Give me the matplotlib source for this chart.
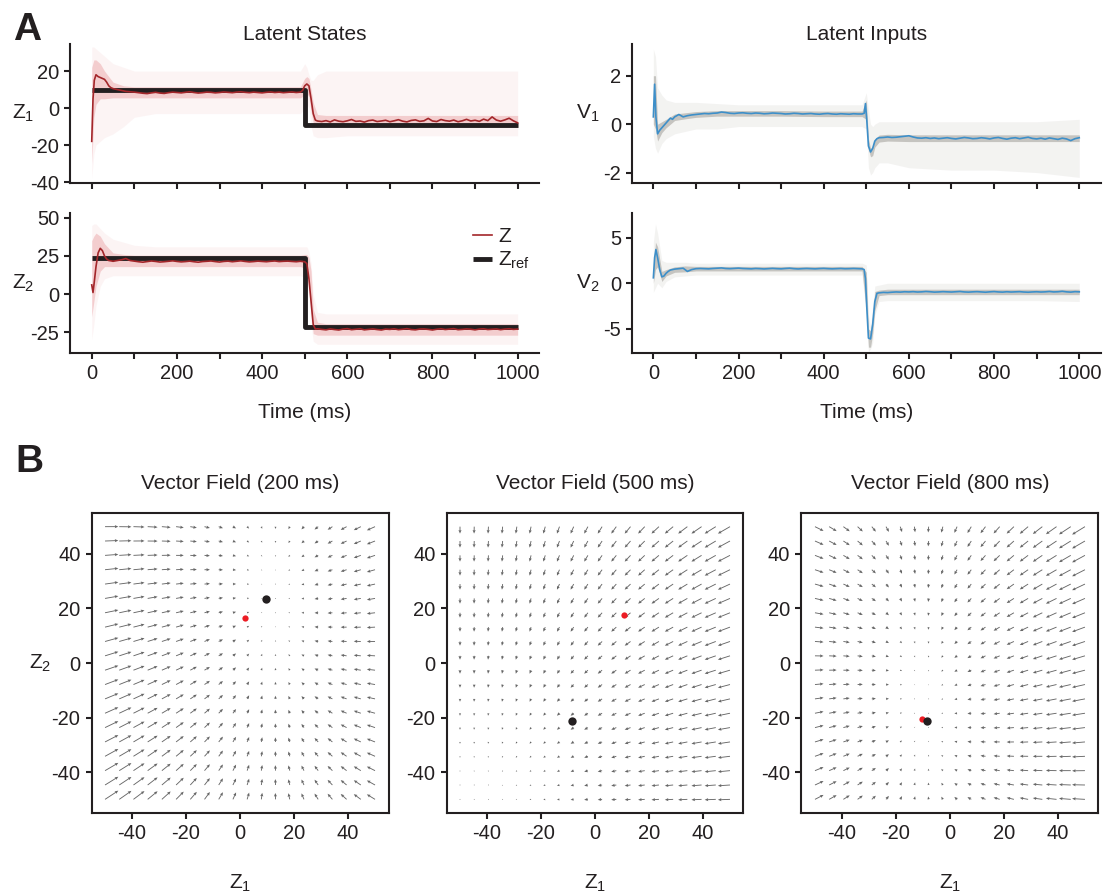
import numpy as np
import matplotlib
matplotlib.use("Agg")
import matplotlib.pyplot as plt

INK = "#231f20"

plt.rcParams.update({
    "font.family": ["Liberation Sans", "DejaVu Sans"],
    "mathtext.fontset": "custom",
    "mathtext.rm": "Liberation Sans",
    "mathtext.default": "regular",
    "axes.unicode_minus": False,
    "font.size": 15,
    "text.color": INK,
    "axes.edgecolor": INK,
    "axes.labelcolor": INK,
    "xtick.color": INK,
    "ytick.color": INK,
    "axes.linewidth": 1.5,
})

# ---- time grids (ms) ----
t_early = [0, 3, 6, 10, 15, 20, 25, 30, 35, 40, 45, 50, 60, 70, 80, 90]
t_steady = list(range(100, 500, 10))
t_late = list(range(530, 1001, 10))
z_switch_t = [495, 500, 505, 510, 515, 520, 525]
v_switch_t = [495, 498, 501, 505, 510, 515, 520, 525]

# ---- latent states (trial mean) ----
z1_early = [-18, 5, 15, 18, 17, 16.5, 16, 15.5, 14, 12, 11, 10.5, 10, 9.5, 9, 8.8]
z1_steady = [8.6, 8.3, 8.0, 7.8, 8.2, 8.5, 8.1, 7.9, 8.3, 8.6,
             8.4, 8.2, 8.5, 8.8, 8.4, 8.1, 8.3, 8.6, 8.5, 8.2,
             8.4, 8.7, 8.5, 8.3, 8.6, 8.8, 8.5, 8.3, 8.6, 8.4,
             8.2, 8.5, 8.7, 8.4, 8.6, 8.3, 8.5, 8.7, 8.4, 8.6]
z1_switch = [9.5, 12, 13, 12, 5, -3, -6.5]
z1_late = [-7.0, -7.3, -6.8, -7.5, -6.4, -7.1, -7.4, -6.9, -6.2, -7.2,
           -7.0, -7.6, -6.8, -6.5, -7.3, -7.0, -6.6, -7.4, -6.9, -6.3,
           -7.1, -7.5, -6.7, -6.4, -7.2, -6.9, -5.6, -7.0, -7.3, -6.2,
           -6.8, -7.1, -6.5, -7.4, -6.9, -6.1, -7.0, -6.6, -7.2, -6.0,
           -6.8, -4.8, -6.5, -7.1, -6.4, -5.5, -6.9, -8.0]

z2_early = [6, 1, 8, 18, 27, 30, 28.5, 25, 23, 22, 21.8, 21.5, 22, 22.5, 23.3, 22]
z2_steady = [21.6, 21.2, 20.9, 21.3, 21.7, 21.4, 21.0, 21.2, 21.5, 21.8,
             21.4, 21.1, 21.3, 21.6, 21.2, 20.9, 21.3, 21.5, 21.7, 21.3,
             21.0, 21.4, 21.6, 21.2, 21.5, 21.8, 21.4, 21.1, 21.3, 21.6,
             21.4, 21.2, 21.5, 21.7, 21.3, 21.5, 21.6, 21.4, 21.2, 21.5]
z2_switch = [21.3, 21.2, 20, 10, -5, -20, -23]
z2_late = [-22.8, -23.2, -23.5, -22.9, -23.3, -23.6, -23.0, -22.7, -23.4, -23.1,
           -22.8, -23.5, -23.2, -22.9, -23.3, -23.6, -23.0, -23.2, -22.8, -23.4,
           -23.1, -22.7, -23.3, -23.5, -23.0, -22.9, -23.2, -23.6, -23.1, -22.8,
           -23.3, -23.0, -22.7, -23.4, -23.2, -22.9, -23.1, -23.5, -23.0, -22.8,
           -23.3, -23.1, -22.9, -23.4, -23.0, -22.8, -23.2, -23.0]

# reference targets before / after the switch
ref_switch = 500
z1_ref = [9.5, -9.0]
z2_ref = [23.5, -21.5]

# ---- latent inputs (trial mean) ----
v1_early = [0.3, 1.65, 0.3, -0.4, -0.25, -0.15, -0.05, 0.05, 0.15, 0.25, 0.2, 0.3, 0.4, 0.3, 0.35, 0.38]
v1_steady = [0.40, 0.42, 0.44, 0.43, 0.45, 0.46, 0.50, 0.48, 0.45, 0.44,
             0.46, 0.47, 0.45, 0.44, 0.46, 0.45, 0.43, 0.44, 0.46, 0.45,
             0.44, 0.42, 0.43, 0.45, 0.44, 0.42, 0.43, 0.44, 0.42, 0.41,
             0.43, 0.44, 0.42, 0.41, 0.43, 0.42, 0.41, 0.43, 0.42, 0.42]
v1_switch = [0.45, 0.85, 0.2, -0.9, -1.15, -1.0, -0.7, -0.6]
v1_late = [-0.56, -0.55, -0.53, -0.55, -0.54, -0.52, -0.50, -0.48, -0.53, -0.57,
           -0.58, -0.56, -0.59, -0.57, -0.60, -0.58, -0.56, -0.59, -0.61, -0.58,
           -0.55, -0.57, -0.60, -0.59, -0.56, -0.58, -0.61, -0.57, -0.55, -0.59,
           -0.62, -0.58, -0.56, -0.60, -0.57, -0.54, -0.59, -0.61, -0.58, -0.62,
           -0.57, -0.60, -0.63, -0.58, -0.61, -0.68, -0.60, -0.56]

v2_early = [0.6, 2.8, 3.7, 2.8, 1.5, 0.7, 0.8, 1.1, 1.3, 1.45, 1.5, 1.55, 1.6, 1.65, 1.3, 1.5]
v2_steady = [1.6, 1.62, 1.6, 1.58, 1.62, 1.65, 1.68, 1.62, 1.6, 1.63,
             1.66, 1.62, 1.6, 1.58, 1.62, 1.6, 1.57, 1.6, 1.63, 1.6,
             1.58, 1.62, 1.65, 1.6, 1.57, 1.6, 1.62, 1.6, 1.58, 1.61,
             1.63, 1.6, 1.58, 1.6, 1.62, 1.59, 1.6, 1.62, 1.6, 1.58]
v2_switch = [1.5, 0.5, -2.5, -6.0, -6.1, -4.5, -2.0, -1.1]
v2_late = [-1.05, -1.0, -1.02, -0.98, -0.95, -0.97, -0.93, -0.95, -0.92, -0.96,
           -0.94, -0.9, -0.93, -0.97, -0.95, -0.92, -0.94, -0.96, -0.93, -0.9,
           -0.95, -0.97, -0.94, -0.92, -0.95, -0.98, -0.94, -0.91, -0.95, -0.97,
           -0.93, -0.96, -0.94, -0.92, -0.96, -0.98, -0.95, -0.93, -0.96, -0.94,
           -0.9, -0.95, -0.93, -0.88, -0.94, -0.97, -0.92, -0.94]

# ---- trial spread envelopes (inner = dense core, outer = faint trials) ----
env_t = [0, 5, 10, 20, 30, 50, 75, 100, 150, 200, 300, 400, 490,
         500, 505, 510, 515, 520, 530, 550, 600, 700, 800, 900, 1000]

z1_inner_hi = [22, 26, 26, 24, 20, 14, 12, 11.5, 11.5, 11.5, 11.5, 11.5, 11.5, 16, 17, 16, 10, 3, -3.5, -4, -4, -4, -4, -4, -4]
z1_inner_lo = [-30, -5, 2, 5, 5, 5.5, 5.5, 5.5, 5.5, 5.5, 5.5, 5.5, 5.5, 7, 8, 6, -2, -8, -10.5, -10.5, -10.5, -10.5, -10.5, -10.5, -10.5]
z1_outer_hi = [33, 33, 32, 30, 28, 24, 22, 20, 20, 20, 20, 20, 20, 24, 22, 18, 15, 15, 18, 20, 20, 20, 20, 20, 20]
z1_outer_lo = [-38, -25, -20, -18, -16, -14, -10, -5, -3, -3, -3, -3, -3, 0, 2, 0, -10, -15, -16, -16, -15, -15, -15, -15, -15]

z2_inner_hi = [35, 38, 40, 38, 33, 27, 26, 25.5, 25.5, 25.5, 25.5, 25.5, 25.5, 26, 26, 24, 15, -10, -18.5, -19.5, -19.5, -19.5, -19.5, -19.5, -19.5]
z2_inner_lo = [-15, -5, 5, 15, 18, 18, 18, 18, 18, 18, 18, 18, 18, 17, 16, 8, -12, -26, -27, -27, -27, -27, -27, -27, -27]
z2_outer_hi = [45, 46, 46, 43, 40, 36, 34, 32, 31, 31, 31, 31, 31, 31, 31, 28, 20, 0, -12, -13, -13, -13, -13, -13, -13]
z2_outer_lo = [-30, -20, -8, 5, 10, 12, 12, 12, 12, 12, 12, 12, 12, 11, 10, 0, -20, -31, -33, -33, -33, -33, -33, -33, -33]

v1_inner_hi = [2.0, 2.0, 0.0, 0.1, 0.2, 0.42, 0.47, 0.52, 0.56, 0.56, 0.56, 0.54, 0.54, 1.0, -0.6, -1.0, -0.9, -0.62, -0.45, -0.42, -0.44, -0.44, -0.44, -0.44, -0.44]
v1_inner_lo = [0.0, -0.2, -0.7, -0.35, -0.15, 0.15, 0.22, 0.28, 0.33, 0.33, 0.33, 0.31, 0.31, 0.2, -1.05, -1.35, -1.3, -0.95, -0.74, -0.7, -0.72, -0.72, -0.72, -0.72, -0.72]
v1_outer_hi = [3.1, 2.8, 1.5, 1.2, 1.0, 0.9, 0.9, 0.9, 0.85, 0.8, 0.8, 0.8, 0.8, 1.3, 0.6, 0.0, -0.1, 0.0, 0.1, 0.1, 0.1, 0.1, 0.1, 0.1, 0.2]
v1_outer_lo = [-0.5, -1.0, -1.2, -0.8, -0.6, -0.4, -0.3, -0.2, -0.2, -0.1, -0.1, -0.1, -0.1, -0.2, -1.8, -2.1, -2.0, -1.8, -1.6, -1.6, -1.8, -1.9, -1.9, -2.0, -2.2]

v2_inner_hi = [1.5, 4.5, 4.0, 1.3, 1.5, 1.8, 1.9, 1.85, 1.85, 1.85, 1.85, 1.85, 1.85, 1.2, -5.0, -5.2, -3.5, -0.9, -0.75, -0.65, -0.65, -0.65, -0.65, -0.65, -0.65]
v2_inner_lo = [0.0, 1.5, 1.8, 0.2, 0.8, 1.2, 1.25, 1.35, 1.35, 1.35, 1.35, 1.35, 1.35, -3.0, -7.0, -7.0, -5.5, -3.0, -1.35, -1.25, -1.25, -1.25, -1.25, -1.25, -1.25]
v2_outer_hi = [4.5, 6.5, 5.5, 2.5, 2.3, 2.3, 2.3, 2.2, 2.2, 2.2, 2.2, 2.2, 2.2, 2.0, -3.5, -4.8, -2.5, -0.3, -0.2, 0.0, 0.0, 0.0, 0.0, 0.0, 0.0]
v2_outer_lo = [-1.0, -0.5, 0.0, -0.5, 0.2, 0.7, 0.8, 0.9, 0.9, 0.9, 0.9, 0.9, 0.9, -3.5, -7.5, -7.2, -6.5, -3.5, -2.0, -1.9, -1.9, -1.9, -1.9, -1.9, -2.0]

# ---- vector field snapshots ----
vf_times = [200, 500, 800]
vf_center = [(12, 24), (-52, -57), (-10, -16)]
vf_rate = [(1.0, 0.4), (0.03, 0.3), (1.0, 0.4)]
vf_cross = [-0.17, 0.0, -0.17]
vf_power = [1.0, 1.63, 1.0]
z_dot = [(1.9, 16.6), (10.7, 17.7), (-10.2, -20.4)]
zref_dot = [(9.5, 23.5), (-8.6, -21.1), (-8.6, -21.1)]

Z_COLOR = "#a3262a"
Z_BAND = ("#eba7aa", "#f5d3d5")
V_COLOR = "#3d8fc9"
V_BAND = ("#8f8b85", "#d6d4d0")


def _series(*parts):
    return np.concatenate([np.asarray(p, dtype=float) for p in parts])


def _style_time_axis(ax, ylim, yticks, show_labels):
    ax.set_xlim(-50, 1050)
    ax.set_ylim(*ylim)
    ax.set_yticks(yticks)
    ax.set_xticks(np.arange(0, 1001, 200))
    ax.set_xticks(np.arange(100, 1000, 200), minor=True)
    ax.tick_params(which="both", direction="out", length=4.5, width=1.5, labelsize=14.5)
    ax.spines["top"].set_visible(False)
    ax.spines["right"].set_visible(False)
    if not show_labels:
        ax.tick_params(axis="x", labelbottom=False)


def plot_trace(ax, t, y, inner, outer, bands, alphas, color, ylim, yticks, ylabel, lx,
               show_labels=False):
    ax.fill_between(env_t, outer[0], outer[1], color=bands[1], alpha=alphas[1], lw=0, zorder=1)
    ax.fill_between(env_t, inner[0], inner[1], color=bands[0], alpha=alphas[0], lw=0, zorder=2)
    line, = ax.plot(t, y, color=color, lw=1.2, zorder=4)
    _style_time_axis(ax, ylim, yticks, show_labels)
    ax.set_ylabel(ylabel, rotation=0, ha="center", va="center", fontsize=15)
    ax.yaxis.set_label_coords(lx, 0.5)
    if show_labels:
        ax.set_xlabel("Time (ms)", fontsize=15)
        ax.xaxis.set_label_coords(0.5, -0.36)
    return line


def flow(x, y, center, rate, cross, power):
    dx = x - center[0]
    dy = y - center[1]
    u = -rate[0] * np.sign(dx) * np.abs(dx) ** power
    v = -rate[1] * dy + cross * dx
    return u, v


fig = plt.figure(figsize=(11.11, 8.93), dpi=100)

t_z = _series(t_early, t_steady, z_switch_t, t_late)
t_v = _series(t_early, t_steady, v_switch_t, t_late)

col_w = 0.4217
ax_z1 = fig.add_axes([0.0634, 0.7951, col_w, 0.1556])
ax_z2 = fig.add_axes([0.0634, 0.6047, col_w, 0.1568])
ax_v1 = fig.add_axes([0.5689, 0.7951, col_w, 0.1556])
ax_v2 = fig.add_axes([0.5689, 0.6047, col_w, 0.1568])

# latent states with reference steps
for ax, ref in [(ax_z1, z1_ref), (ax_z2, z2_ref)]:
    ax.step([0, ref_switch, 1000], [ref[0], ref[1], ref[1]], where="post",
            color=INK, lw=3.5, solid_capstyle="butt", zorder=3)

z_alpha = (0.5, 0.24)
v_alpha = (0.45, 0.28)
plot_trace(ax_z1, t_z, _series(z1_early, z1_steady, z1_switch, z1_late),
           (z1_inner_lo, z1_inner_hi), (z1_outer_lo, z1_outer_hi), Z_BAND, z_alpha, Z_COLOR,
           (-40.5, 34.6), [-40, -20, 0, 20], "$Z_1$", -0.1)
z_line = plot_trace(ax_z2, t_z, _series(z2_early, z2_steady, z2_switch, z2_late),
                    (z2_inner_lo, z2_inner_hi), (z2_outer_lo, z2_outer_hi), Z_BAND, z_alpha,
                    Z_COLOR, (-38.7, 53.2), [-25, 0, 25, 50], "$Z_2$", -0.1, show_labels=True)
ref_line = ax_z2.lines[0]
ax_z2.legend([z_line, ref_line], ["Z", "$Z_{ref}$"], loc="upper left",
             bbox_to_anchor=(0.86, 0.9), frameon=False, handlelength=0.9,
             handletextpad=0.3, labelspacing=0.2, borderpad=0, borderaxespad=0,
             fontsize=15)

plot_trace(ax_v1, t_v, _series(v1_early, v1_steady, v1_switch, v1_late),
           (v1_inner_lo, v1_inner_hi), (v1_outer_lo, v1_outer_hi), V_BAND, v_alpha, V_COLOR,
           (-2.43, 3.31), [-2, 0, 2], "$V_1$", -0.094)
plot_trace(ax_v2, t_v, _series(v2_early, v2_steady, v2_switch, v2_late),
           (v2_inner_lo, v2_inner_hi), (v2_outer_lo, v2_outer_hi), V_BAND, v_alpha, V_COLOR,
           (-7.64, 7.7), [-5, 0, 5], "$V_2$", -0.094, show_labels=True)

ax_z1.set_title("Latent States", fontsize=15, pad=-8)
ax_v1.set_title("Latent Inputs", fontsize=15, pad=-8)

# vector field panels
grid = np.linspace(-50, 50, 20)
gx, gy = np.meshgrid(grid, grid)
lefts = [0.0824, 0.4019, 0.7214]
for i, left in enumerate(lefts):
    ax = fig.add_axes([left, 0.0896, 0.2673, 0.3359])
    u, v = flow(gx, gy, vf_center[i], vf_rate[i], vf_cross[i], vf_power[i])
    ax.quiver(gx, gy, u, v, angles="xy", scale_units="xy", scale=12.6,
              color="#666666", width=0.003, headwidth=3.5, headlength=4,
              headaxislength=3.5, pivot="tail")
    ax.plot(*z_dot[i], "o", color="#ec1c24", ms=4.5, mec="none", zorder=5)
    ax.plot(*zref_dot[i], "o", color=INK, ms=6, mec="none", zorder=6)
    ax.set_xlim(-55, 55)
    ax.set_ylim(-55, 55)
    ax.set_xticks([-40, -20, 0, 20, 40])
    ax.set_yticks([-40, -20, 0, 20, 40])
    ax.tick_params(direction="out", length=4.5, width=1.5, labelsize=14.5)
    ax.set_title(f"Vector Field ({vf_times[i]} ms)", fontsize=15, pad=17)
    ax.set_xlabel("$Z_1$", fontsize=15)
    ax.xaxis.set_label_coords(0.5, -0.2)
    if i == 0:
        ax.set_ylabel("$Z_2$", rotation=0, ha="center", va="center", fontsize=15)
        ax.yaxis.set_label_coords(-0.173, 0.5)

fig.text(0.012, 0.9552, "A", fontsize=28, fontweight="bold")
fig.text(0.014, 0.4714, "B", fontsize=28, fontweight="bold")

fig.savefig("out.png", dpi=100)
